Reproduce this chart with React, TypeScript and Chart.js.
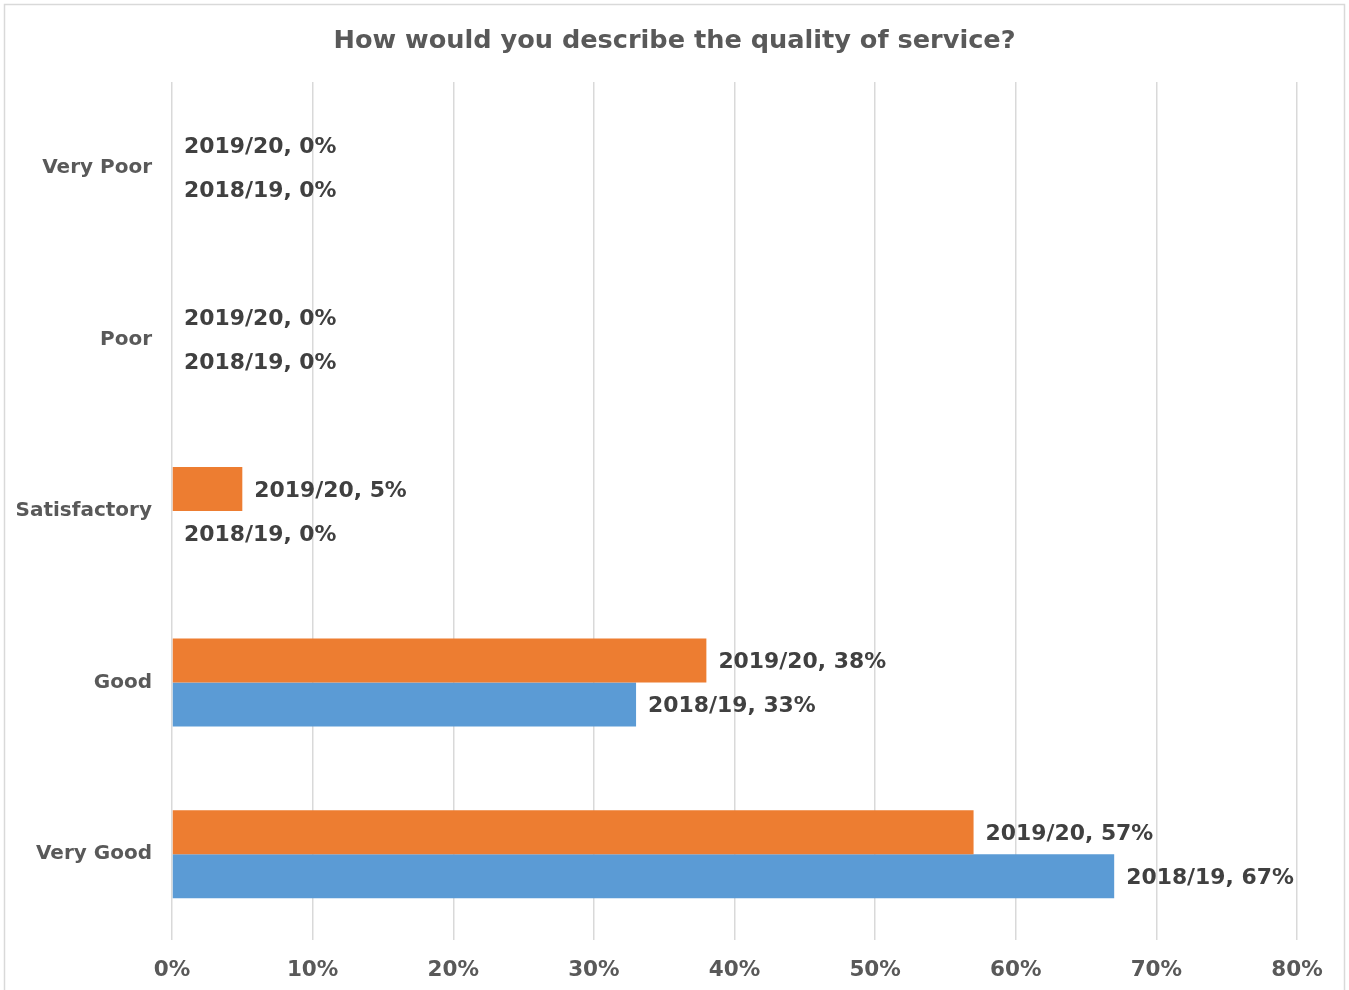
import React, { useEffect, useRef } from "react";
import { Chart, registerables } from "chart.js";

Chart.register(...registerables);

const categories = ["Very Poor", "Poor", "Satisfactory", "Good", "Very Good"];
const seriesNames = ["2019/20", "2018/19"];
const values2019_20 = [0, 0, 5, 38, 57];
const values2018_19 = [0, 0, 0, 33, 67];
const xTicks = [0, 10, 20, 30, 40, 50, 60, 70, 80];
const titleText = "How would you describe the quality of service?";

const FONT = "'DejaVu Sans', Verdana, sans-serif";

const W = 1349;
const H = 990;

export default function App() {
  const ref = useRef<HTMLCanvasElement | null>(null);

  useEffect(() => {
    document.body.style.margin = "0";
    const canvas = ref.current;
    if (!canvas) return;

    const framePlugin = {
      id: "frame",
      beforeDraw(chart: any) {
        const ctx = chart.ctx;
        ctx.save();
        ctx.fillStyle = "#ffffff";
        ctx.fillRect(0, 0, W, H);
        ctx.strokeStyle = "#d9d9d9";
        ctx.lineWidth = 1.5;
        ctx.strokeRect(4.5, 4.5, W - 9, H + 10);
        ctx.fillStyle = "#595959";
        ctx.font = `bold 25.6px ${FONT}`;
        ctx.textAlign = "center";
        ctx.textBaseline = "middle";
        ctx.fillText(titleText, 674.5, 41);
        ctx.restore();
      },
      afterDatasetsDraw(chart: any) {
        const ctx = chart.ctx;
        ctx.save();
        ctx.fillStyle = "#404040";
        ctx.font = `bold 21.9px ${FONT}`;
        ctx.textAlign = "left";
        ctx.textBaseline = "middle";
        chart.data.datasets.forEach((ds: any, di: number) => {
          const meta = chart.getDatasetMeta(di);
          meta.data.forEach((bar: any, i: number) => {
            const v = ds.data[i];
            ctx.fillText(`${ds.label}, ${v}%`, bar.x + 12, bar.y + 2);
          });
        });
        ctx.restore();
      },
    };

    const chart = new Chart(canvas, {
      type: "bar",
      data: {
        labels: categories,
        datasets: [
          {
            label: seriesNames[0],
            data: values2019_20,
            backgroundColor: "#ED7D31",
            barPercentage: 1,
            categoryPercentage: 0.513,
          },
          {
            label: seriesNames[1],
            data: values2018_19,
            backgroundColor: "#5B9BD5",
            barPercentage: 1,
            categoryPercentage: 0.513,
          },
        ],
      },
      options: {
        indexAxis: "y",
        responsive: false,
        animation: false,
        layout: { padding: { left: 0, right: 52, top: 82, bottom: 0 } },
        plugins: {
          legend: { display: false },
          title: { display: false },
          tooltip: { enabled: false },
        },
        scales: {
          x: {
            min: 0,
            max: 80,
            afterBuildTicks(scale: any) {
              scale.ticks = xTicks.map((v) => ({ value: v }));
            },
            afterFit(scale: any) {
              scale.height = 50;
            },
            ticks: {
              padding: 18,
              color: "#595959",
              font: { family: FONT, size: 21.5, weight: "bold" },
              callback: (v: any) => `${v}%`,
            },
            grid: { color: "#d9d9d9", lineWidth: 1.5, drawTicks: false },
            border: { display: false },
          },
          y: {
            afterFit(scale: any) {
              scale.width = 172;
            },
            ticks: {
              padding: 20,
              color: "#595959",
              font: { family: FONT, size: 20, weight: "bold" },
            },
            grid: { display: false, drawTicks: false },
            border: { display: false },
          },
        },
      },
      plugins: [framePlugin],
    });

    return () => chart.destroy();
  }, []);

  return (
    <div style={{ width: W, height: H }}>
      <canvas ref={ref} width={W} height={H} style={{ display: "block" }} />
    </div>
  );
}
